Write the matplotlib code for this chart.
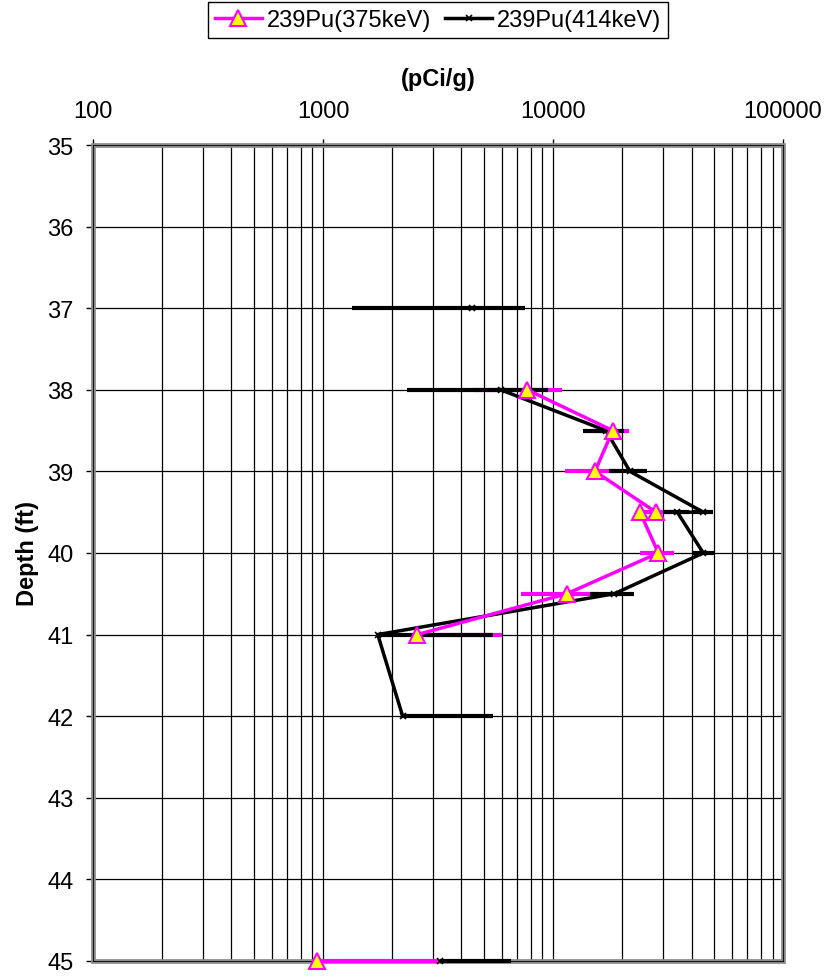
import numpy as np
import matplotlib.pyplot as plt
from matplotlib.patches import Rectangle
from matplotlib.ticker import LogLocator, FixedLocator, NullFormatter

plt.rcParams['font.family'] = ['Liberation Sans', 'DejaVu Sans']

# 239Pu (375 keV) - nan breaks the line where no sample exists
depth_375 = [38, 38.5, 39, 39.5, 39.5, 40, 40.5, 41, 43, 45]
pu_375 = [7730, 18170, 15220, 28040, 23890, 28700, 11470, 2570, np.nan, 938]
err_375 = [3180, 3300, 3950, 4830, 1000, 4800, 4215, 3410, np.nan, 2230]

# 239Pu (414 keV)
depth_414 = [37, 37.5, 38, 38.5, 39, 39.5, 39.5, 40, 40.5, 41, 42, 43, 45]
pu_414 = [4430, np.nan, 5920, 17000, 21600, 45000, 34700, 45000, 18450, 1730, 2220, np.nan, 3230]
err_414 = [3090, np.nan, 3600, 3450, 4080, 4800, 4500, 5000, 4000, 3770, 3250, np.nan, 3340]

depth_ticks = np.arange(35, 46)
conc_ticks = [100, 1000, 10000, 100000]
xmin, xmax = 100, 100000


def xerr_log(vals, errs):
    # on a log axis a minus arm that would cross zero is left out
    vals = np.array(vals, dtype=float)
    errs = np.array(errs, dtype=float)
    lower = np.where(vals - errs > 0, errs, 0.0)
    return np.vstack([lower, errs])


fig = plt.figure(figsize=(8.28, 9.78), dpi=100)
ax = fig.add_axes([0.1123, 0.0164, 0.8334, 0.8343])

# error bars first so the markers sit on top
ax.errorbar(pu_375, depth_375, xerr=xerr_log(pu_375, err_375), fmt='none',
            ecolor='#FF00FF', elinewidth=3, capsize=0, zorder=3, clip_on=False)
ax.errorbar(pu_414, depth_414, xerr=xerr_log(pu_414, err_414), fmt='none',
            ecolor='black', elinewidth=3, capsize=0, zorder=4, clip_on=False)

ax.plot(pu_414, depth_414, color='black', linewidth=2.5, marker='x',
        markersize=4, markeredgewidth=1.2, markeredgecolor='black',
        label='239Pu(414keV)', zorder=5, clip_on=False)
ax.plot(pu_375, depth_375, color='#FF00FF', linewidth=2.5, marker='^',
        markersize=11, markerfacecolor='#FFFF00', markeredgecolor='#FF00FF',
        markeredgewidth=1.5, label='239Pu(375keV)', zorder=6, clip_on=False)

ax.set_xscale('log')
ax.set_xlim(xmin, xmax)
ax.set_ylim(45, 35)

ax.xaxis.set_major_locator(FixedLocator(conc_ticks))
ax.xaxis.set_minor_locator(LogLocator(base=10, subs=np.arange(2, 10)))
ax.xaxis.set_minor_formatter(NullFormatter())
ax.set_xticklabels([str(t) for t in conc_ticks])
ax.set_yticks(depth_ticks)

ax.xaxis.tick_top()
ax.xaxis.set_label_position('top')
ax.tick_params(axis='x', which='major', direction='out', length=4, width=1,
               labelsize=17, pad=12.5)
ax.tick_params(axis='x', which='minor', length=0)
ax.tick_params(axis='y', which='major', direction='out', length=5, width=1,
               labelsize=17, pad=9)

ax.grid(True, which='major', axis='both', color='black', linewidth=0.9)
ax.grid(True, which='minor', axis='x', color='black', linewidth=0.9)
ax.set_axisbelow(True)

# grey plot-area frame with thin black axis lines over it
for s in ax.spines.values():
    s.set_color('black')
    s.set_linewidth(0.6)
    s.set_zorder(2.6)
ax.add_patch(Rectangle((0, 0), 1, 1, transform=ax.transAxes, fill=False,
                       edgecolor='#8a8a8a', linewidth=3.4, zorder=2.5,
                       clip_on=False))

ax.set_xlabel('(pCi/g)', fontsize=17, fontweight='bold', labelpad=11)
ax.set_ylabel('Depth (ft)', fontsize=17, fontweight='bold', labelpad=6)

h, l = ax.get_legend_handles_labels()
fig.legend(h[::-1], l[::-1], loc='upper center', bbox_to_anchor=(0.529, 0.997),
           ncol=2, fontsize=17, frameon=True, fancybox=False, edgecolor='black',
           framealpha=1, handlelength=2.0, handletextpad=0.2, columnspacing=0.6,
           borderpad=0.3, borderaxespad=0)

fig.savefig('out.png', dpi=100)
